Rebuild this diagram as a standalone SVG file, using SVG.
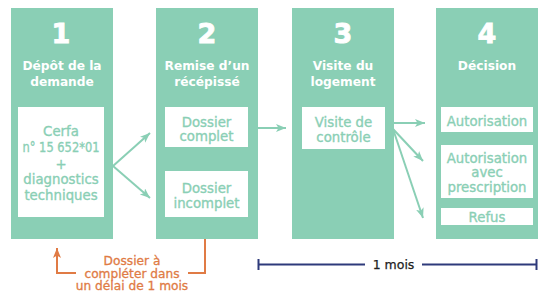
<svg xmlns="http://www.w3.org/2000/svg" width="550" height="301" viewBox="0 0 550 301">
<style>
.col{fill:#8ACFB5}
.box{fill:#ffffff}
text{font-family:"DejaVu Sans","Liberation Sans",sans-serif;text-anchor:middle}
.num{font-size:27px;font-weight:bold;fill:#ffffff;stroke:#ffffff;stroke-width:0.9}
.hd{font-size:12.2px;font-weight:bold;fill:#ffffff}
.in{font-size:13.3px;fill:#8ACFB5;stroke:#8ACFB5;stroke-width:0.35}
.or{font-size:12.2px;fill:#E07B45;stroke:#E07B45;stroke-width:0.3}
.mo{font-size:12.5px;fill:#222222;stroke:#222222;stroke-width:0.25}
.ga{stroke:#8ACFB5;stroke-width:2;fill:none}
.oa{stroke:#E07B45;stroke-width:2;fill:none}
.na{stroke:#2E3A7B;stroke-width:2;fill:none}
</style>
<defs>
<marker id="ag" markerUnits="userSpaceOnUse" markerWidth="12" markerHeight="10" refX="10" refY="4" orient="auto"><path d="M0,0 L10,4 L0,8 L2.5,4 z" fill="#8ACFB5"/></marker>
<marker id="ao" markerUnits="userSpaceOnUse" markerWidth="12" markerHeight="10" refX="10" refY="4" orient="auto"><path d="M0,0 L10,4 L0,8 L2.5,4 z" fill="#E07B45"/></marker>
</defs>
<g id="step1">
<rect class="col" x="11" y="8" width="102" height="231"/>
<text class="num" x="61" y="42.5">1</text>
<text class="hd" x="62" y="69.5">Dépôt de la</text>
<text class="hd" x="62" y="85.5">demande</text>
<rect class="box" x="18" y="107" width="86" height="110"/>
<text class="in" x="61" y="135.5">Cerfa</text>
<text class="in" x="61" y="151.5" textLength="77" lengthAdjust="spacingAndGlyphs">n° 15 652*01</text>
<text class="in" x="61" y="168.5">+</text>
<text class="in" x="61" y="184">diagnostics</text>
<text class="in" x="61" y="200">techniques</text>
</g>
<g id="step2">
<rect class="col" x="156" y="8" width="102" height="231"/>
<text class="num" x="207" y="42.5">2</text>
<text class="hd" x="207" y="69.5">Remise d’un</text>
<text class="hd" x="207" y="85.5">récépissé</text>
</g>
<g id="complet">
<rect class="box" x="165" y="107" width="83" height="40"/>
<text class="in" x="206.5" y="126.5">Dossier</text>
<text class="in" x="206.5" y="141">complet</text>
</g>
<g id="incomplet">
<rect class="box" x="165" y="171" width="83" height="46"/>
<text class="in" x="206.5" y="192.5">Dossier</text>
<text class="in" x="206.5" y="207.5">incomplet</text>
</g>
<g id="step3">
<rect class="col" x="292" y="8" width="102" height="231"/>
<text class="num" x="343" y="42.5">3</text>
<text class="hd" x="343" y="69.5">Visite du</text>
<text class="hd" x="343" y="85.5">logement</text>
<rect class="box" x="302" y="107" width="83" height="42"/>
<text class="in" x="343.5" y="127">Visite de</text>
<text class="in" x="343.5" y="141.5">contrôle</text>
</g>
<g id="step4">
<rect class="col" x="436" y="8" width="102" height="231"/>
<text class="num" x="487" y="42.5">4</text>
<text class="hd" x="487" y="69.5">Décision</text>
</g>
<g id="autorisation">
<rect class="box" x="441" y="107" width="92" height="25"/>
<text class="in" x="487" y="125.5">Autorisation</text>
</g>
<g id="prescription">
<rect class="box" x="441" y="145" width="92" height="53"/>
<text class="in" x="487" y="162.5">Autorisation</text>
<text class="in" x="487" y="177">avec</text>
<text class="in" x="487" y="192">prescription</text>
</g>
<g id="refus">
<rect class="box" x="441" y="208" width="92" height="17"/>
<text class="in" x="487" y="221.5">Refus</text>
</g>
<g id="connectors">
<path class="ga" d="M113,166 L150,133" marker-end="url(#ag)"/>
<path class="ga" d="M113,166 L150,198" marker-end="url(#ag)"/>
<path class="ga" d="M258,128 L286,128" marker-end="url(#ag)"/>
<path class="ga" d="M394,123 L425,123" marker-end="url(#ag)"/>
<path class="ga" d="M393,129 L423,161" marker-end="url(#ag)"/>
<path class="ga" d="M393,129 L423,218" marker-end="url(#ag)"/>
<path class="oa" d="M205,239 V273 H188"/>
<path class="oa" d="M76,273 H57 V248" marker-end="url(#ao)"/>
<path class="na" d="M258.5,264.5 H365 M422,264.5 H536.5 M258.5,259 V270 M536.5,259 V270"/>
</g>
<g id="labels">
<text class="or" x="132" y="265">Dossier à</text>
<text class="or" x="132" y="277.5">compléter dans</text>
<text class="or" x="132" y="290">un délai de 1 mois</text>
<text class="mo" x="393.5" y="268.5">1 mois</text>
</g>
</svg>
